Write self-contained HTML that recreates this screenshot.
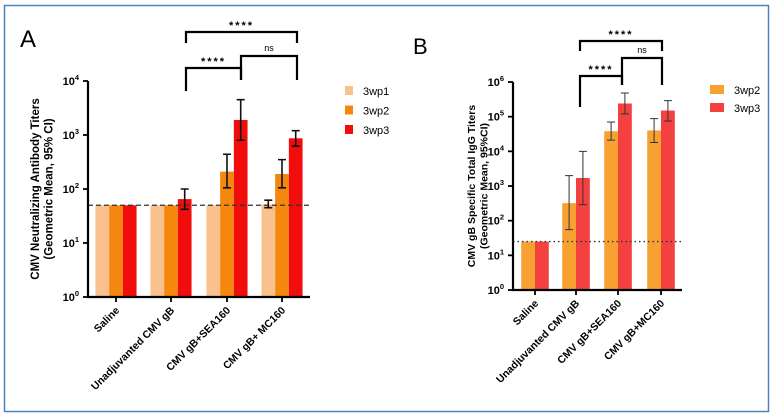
<!DOCTYPE html>
<html><head><meta charset="utf-8"><style>
body{margin:0;background:#fff}
svg{display:block;font-family:"Liberation Sans",Arial,sans-serif}
</style></head><body>
<svg id="s" width="772" height="418" viewBox="0 0 772 418" xmlns="http://www.w3.org/2000/svg">
<rect x="4.5" y="5.5" width="764" height="406" fill="none" stroke="#4f81bd" stroke-width="1.5"/>
<text x="20" y="47" font-size="24">A</text>
<text x="413" y="54" font-size="22">B</text>
<g id="ga"></g>
<g id="gb"></g>
</svg>
<script>
// Chart A data
const catsA=["Saline","Unadjuvanted CMV gB","CMV gB+SEA160","CMV gB+ MC160"];
const seriesA=["3wp1","3wp2","3wp3"];
const colorsA=["#f9c18d","#f5870f","#f20d0d"];
const valA=[[50,50,50],[50,50,65],[50,210,1900],[52,190,870]];
const loA=[[null,null,null],[null,null,42],[null,105,800],[45,105,620]];
const hiA=[[null,null,null],[null,null,100],[null,440,4500],[62,350,1200]];
const ticksA=[0,1,2,3,4];
// Chart B data
const catsB=["Saline","Unadjuvanted CMV gB","CMV gB+SEA160","CMV gB+MC160"];
const seriesB=["3wp2","3wp3"];
const colorsB=["#f8a133","#f54040"];
const valB=[[25,25],[320,1700],[38000,240000],[40000,150000]];
const loB=[[null,null],[55,290],[21000,120000],[18000,75000]];
const hiB=[[null,null],[2000,10000],[70000,480000],[88000,290000]];
const ticksB=[0,1,2,3,4,5,6];

const NS="http://www.w3.org/2000/svg";
function mk(p,t,a){const e=document.createElementNS(NS,t);for(const k in a)e.setAttribute(k,a[k]);p.appendChild(e);return e;}

function draw(g,cfg){
  const {x0,x1,y0,yTop,maxExp,cats,series,colors,vals,lo,hi,ticks,centers,bw,thresh,dash,title,legX,legY,legGap,errW,errC}=cfg;
  const y=v=>y0-(Math.log10(v)/maxExp)*(y0-yTop);
  cats.forEach((c,i)=>{
    const n=series.length, start=centers[i]-n*bw/2;
    series.forEach((s,j)=>{
      const v=vals[i][j];
      const r=mk(g,'rect',{x:start+j*bw,y:y(v),width:bw,height:y0-y(v),fill:colors[j]});
      
      
    });
  });
  const tl=mk(g,'line',{x1:x0,x2:x1,y1:y(thresh),y2:y(thresh),stroke:'#333','stroke-width':1.3,'stroke-dasharray':dash});
  
  
  cats.forEach((c,i)=>{
    const n=series.length, start=centers[i]-n*bw/2;
    series.forEach((s,j)=>{
      if(lo[i][j]==null)return;
      const cx=start+j*bw+bw/2;
      const e=mk(g,'path',{d:`M${cx},${y(hi[i][j])}V${y(lo[i][j])}M${cx-4},${y(hi[i][j])}h8M${cx-4},${y(lo[i][j])}h8`,stroke:errC,'stroke-width':errW,fill:'none'});
      
      
    });
  });
  const ax=mk(g,'path',{d:`M${x0},${yTop}V${y0}H${x1}`,stroke:'#000','stroke-width':2.2,fill:'none'});
  
  
  ticks.forEach(t=>{
    const yy=y0-(t/maxExp)*(y0-yTop);
    mk(g,'line',{x1:x0-5,x2:x0,y1:yy,y2:yy,stroke:'#000','stroke-width':1.8});
    const tx=mk(g,'text',{x:x0-9,y:yy+4,'font-size':11,'font-weight':'bold','text-anchor':'end'});
    tx.textContent='10';
    const sp=mk(tx,'tspan',{dy:-5,'font-size':7.5});sp.textContent=t;
    
    
  });
  cats.forEach((c,i)=>{
    mk(g,'line',{x1:centers[i],x2:centers[i],y1:y0,y2:y0+5,stroke:'#000','stroke-width':1.8});
    const tx=mk(g,'text',{x:centers[i]+4,y:y0+14,'font-size':10.5,'font-weight':'bold','text-anchor':'end',transform:`rotate(-45 ${centers[i]+4} ${y0+14})`});
    tx.textContent=c;
    
    
  });
  const tt=mk(g,'text',{transform:`translate(${cfg.titleX},${(yTop+y0)/2}) rotate(-90)`,'font-size':cfg.titleSize,'font-weight':'bold','text-anchor':'middle'});
  
  
  title.forEach((l,k)=>{const s=mk(tt,'tspan',{x:0,dy:k?cfg.titleSize+2:0});s.textContent=l;});
  series.forEach((s,j)=>{
    const r=mk(g,'rect',{x:legX,y:legY+j*legGap-5,width:cfg.legW,height:9,fill:colors[j]});
    
    
    const t=mk(g,'text',{x:legX+cfg.legW+10,y:legY+j*legGap+4,'font-size':11});
    t.textContent=s;
    
    
  });
  cfg.brackets.forEach(b=>{
    const p=mk(g,'path',{d:`M${b[0]},${b[3]}V${b[2]}H${b[1]}V${b[4]}`,stroke:'#000','stroke-width':2.2,fill:'none'});
    
    
    const t=mk(g,'text',{x:(b[0]+b[1])/2,y:b[2]-(b[5]==='ns'?5:3),'font-size':b[5]==='ns'?9:11,'font-weight':b[5]==='ns'?'normal':'bold','text-anchor':'middle','letter-spacing':b[5]==='ns'?0:2});
    t.textContent=b[5];
    
    
  });
}
draw(document.getElementById('ga'),{x0:88,x1:310,y0:297,yTop:81,maxExp:4,cats:catsA,series:seriesA,colors:colorsA,vals:valA,lo:loA,hi:hiA,ticks:ticksA,
  centers:[116,171,227,282],bw:13.7,thresh:50,dash:'5,3',title:["CMV Neutralizing Antibody Titers","(Geometric Mean, 95% CI)"],titleX:39,titleSize:11.5,
  legX:345,legY:91,legGap:19.5,legW:8,errW:1.6,errC:'#111',
  brackets:[[186,297,32,43,43,'****'],[186,241,68,91,80,'****'],[241,297,56,80,80,'ns']]});
draw(document.getElementById('gb'),{x0:513,x1:682,y0:290,yTop:82,maxExp:6,cats:catsB,series:seriesB,colors:colorsB,vals:valB,lo:loB,hi:hiB,ticks:ticksB,
  centers:[535,576,618,661],bw:13.8,thresh:25,dash:'1.5,3',title:["CMV gB Specific Total IgG Titers","(Geometric Mean, 95%CI)"],titleX:475,titleSize:10.5,
  legX:710,legY:90,legGap:18,legW:14,errW:1,errC:'#333',
  brackets:[[580,662,41,51,51,'****'],[580,622,76,107,85,'****'],[622,662,58,85,85,'ns']]});
</script>
</body></html>
